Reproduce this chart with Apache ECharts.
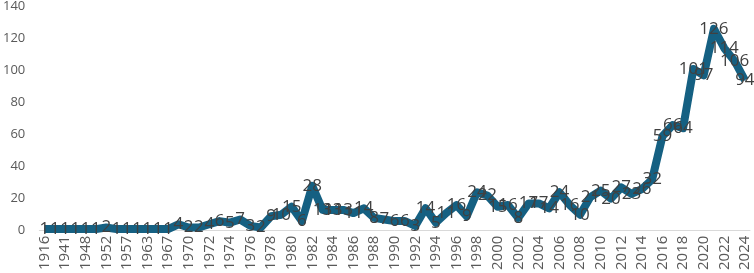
<!DOCTYPE html>
<html>
<head>
<meta charset="utf-8">
<script src="https://cdn.jsdelivr.net/npm/echarts@6/dist/echarts.min.js"></script>
<style>
  html, body { margin: 0; padding: 0; background: #fff; }
  #chart { width: 754px; height: 273px; }
</style>
</head>
<body>
<div id="chart"></div>
<script>
// categories (years); odd ones are hidden by the axis label interval
const years = ['1916', '1936', '1941', '1946', '1948', '1950', '1952', '1955', '1957', '1960',
  '1963', '1965', '1967', '1969', '1970', '1971', '1972', '1973', '1974', '1975',
  '1976', '1977', '1978', '1979', '1980', '1981', '1982', '1983', '1984', '1985',
  '1986', '1987', '1988', '1989', '1990', '1991', '1992', '1993', '1994', '1995',
  '1996', '1997', '1998', '1999', '2000', '2001', '2002', '2003', '2004', '2005',
  '2006', '2007', '2008', '2009', '2010', '2011', '2012', '2013', '2014', '2015',
  '2016', '2017', '2018', '2019', '2020', '2021', '2022', '2023', '2024'];

const counts = [1, 1, 1, 1, 1, 1, 2, 1, 1, 1,
  1, 1, 1, 4, 2, 2, 4, 6, 5, 7,
  3, 2, 9, 10, 15, 6, 28, 13, 13, 13,
  11, 14, 8, 7, 6, 6, 3, 14, 5, 11,
  16, 9, 24, 22, 15, 16, 8, 17, 17, 14,
  24, 16, 10, 21, 25, 20, 27, 23, 26, 32,
  59, 66, 64, 101, 97, 126, 114, 106, 94];

const yTicks = { min: 0, max: 140, interval: 20 };

const chart = echarts.init(document.getElementById('chart'));
chart.setOption({
  animation: false,
  grid: {
    left: 36,
    right: 4,
    top: 5,
    bottom: 41,
  },
  xAxis: {
    type: 'category',
    data: years,
    boundaryGap: true,
    axisTick: {
      show: false,
    },
    axisLine: {
      lineStyle: {
        color: '#d9d9d9',
        width: 1,
      },
    },
    axisLabel: {
      interval: 1,
      rotate: 90,
      margin: 5,
      color: '#595959',
      fontSize: 15,
      fontFamily: 'Open Sans',
    },
  },
  yAxis: {
    type: 'value',
    min: yTicks.min,
    max: yTicks.max,
    interval: yTicks.interval,
    splitLine: {
      show: false,
    },
    axisLine: {
      show: false,
    },
    axisTick: {
      show: false,
    },
    axisLabel: {
      margin: 14,
      color: '#595959',
      fontSize: 13,
      fontFamily: 'Open Sans',
    },
  },
  series: [{
    type: 'line',
    data: counts,
    symbol: 'circle',
    symbolSize: 1,
    showSymbol: true,
    lineStyle: {
      color: '#156082',
      width: 8,
      join: 'round',
    },
    itemStyle: {
      color: '#156082',
    },
    label: {
      show: true,
      position: 'inside',
      color: '#404040',
      fontSize: 17,
      fontFamily: 'Open Sans',
    },
  }],
});
</script>
</body>
</html>
